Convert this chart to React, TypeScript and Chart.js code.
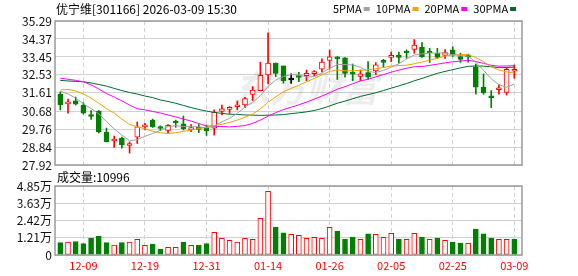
import React, { useEffect, useRef } from 'react';
import { Chart, registerables } from 'chart.js';

Chart.register(...registerables);

// ---------------- data ----------------
const dates = [
  '12-04', '12-05', '12-08', '12-09', '12-10', '12-11', '12-12', '12-15', '12-16', '12-17',
  '12-18', '12-19', '12-22', '12-23', '12-24', '12-25', '12-26', '12-29', '12-30', '12-31',
  '01-05', '01-06', '01-07', '01-08', '01-09', '01-12', '01-13', '01-14', '01-15', '01-16',
  '01-19', '01-20', '01-21', '01-22', '01-23', '01-26', '01-27', '01-28', '01-29', '01-30',
  '02-02', '02-03', '02-04', '02-05', '02-06', '02-09', '02-10', '02-11', '02-12', '02-13',
  '02-24', '02-25', '02-26', '02-27', '03-02', '03-03', '03-04', '03-05', '03-06', '03-09',
];

const opens = [
  31.55, 31.05, 31.2, 30.99, 30.5, 30.68, 29.61, 29.15, 29.3, 28.92,
  29.35, 29.87, 30.22, 29.84, 29.69, 30.12, 30.03, 29.71, 29.79, 29.83,
  29.81, 30.66, 30.77, 30.9, 30.99, 31.53, 31.73, 32.53, 33.13, 32.99,
  32.27, 32.45, 32.49, 32.6, 32.83, 33.27, 33.42, 33.41, 32.66, 32.45,
  32.65, 32.73, 33.22, 33.43, 33.48, 33.7, 33.84, 33.96, 33.69, 33.64,
  33.53, 33.81, 33.47, 33.48, 32.95, 31.9, 31.39, 31.77, 31.63, 32.72,
];
const highs = [
  31.66, 31.3, 31.4, 31.11, 30.71, 30.71, 29.81, 29.4, 29.35, 29.1,
  30.12, 30.05, 30.27, 29.92, 29.99, 30.22, 30.43, 29.99, 29.99, 29.97,
  30.74, 30.99, 30.91, 31.2, 31.38, 31.93, 33.18, 34.68, 33.14, 32.99,
  32.58, 32.66, 32.78, 32.75, 33.36, 33.81, 33.47, 33.42, 33.09, 32.78,
  33.21, 33.16, 33.33, 33.7, 33.7, 33.81, 34.34, 34.19, 33.89, 33.89,
  33.83, 33.97, 33.64, 33.6, 33.09, 32.58, 31.73, 32.04, 32.91, 33.04,
];
const lows = [
  30.74, 30.57, 30.99, 30.53, 30.25, 29.56, 29.1, 28.82, 28.78, 28.53,
  29.02, 29.71, 29.84, 29.68, 29.53, 29.85, 29.71, 29.62, 29.58, 29.43,
  29.45, 30.48, 30.56, 30.74, 30.86, 31.22, 31.71, 32.07, 32.44, 32.1,
  32.1, 32.19, 32.24, 32.48, 32.68, 32.82, 32.3, 32.42, 32.24, 32.24,
  32.3, 32.55, 32.94, 33.21, 33.13, 33.38, 33.64, 33.43, 33.17, 33.38,
  33.37, 33.47, 33.17, 33.18, 31.54, 31.54, 30.86, 31.54, 31.5, 32.36,
];
const closes = [
  30.99, 31.08, 31.03, 30.57, 30.4, 29.61, 29.11, 29.18, 28.95, 28.96,
  29.87, 29.97, 29.87, 29.79, 29.95, 30.07, 29.78, 29.83, 29.74, 29.66,
  30.61, 30.79, 30.81, 30.99, 31.32, 31.76, 32.51, 33.13, 32.61, 32.24,
  32.27, 32.4, 32.61, 32.68, 33.19, 33.45, 33.35, 32.61, 32.57, 32.58,
  32.41, 33.05, 33.17, 33.46, 33.43, 33.65, 34.06, 33.46, 33.65, 33.43,
  33.67, 33.55, 33.33, 33.45, 31.9, 31.62, 31.36, 31.8, 32.82, 32.75,
];
// volume, in 万 (10k) shares
const volumes = [
  0.87, 0.91, 0.94, 0.8, 1.19, 1.33, 0.87, 0.7, 0.87, 0.91,
  1.1, 0.68, 0.77, 0.42, 0.54, 0.54, 0.91, 0.68, 0.7, 0.8,
  1.59, 1.17, 1.03, 0.91, 1.17, 1.1, 2.58, 4.47, 1.97, 1.55,
  1.45, 1.38, 1.17, 1.24, 1.17, 1.94, 1.69, 1.12, 1.26, 1.1,
  1.48, 1.45, 1.24, 1.52, 1.12, 1.1, 1.52, 1.26, 1.1, 1.19,
  1.03, 0.91, 0.84, 0.82, 1.83, 1.48, 1.19, 1.1, 1.1, 1.1,
];
const ma5 = [
  31.7, 31.55, 31.35, 31.05, 30.81, 30.54, 30.14, 29.77, 29.45, 29.16,
  29.22, 29.39, 29.53, 29.69, 29.89, 29.93, 29.89, 29.88, 29.87, 29.82,
  29.92, 30.13, 30.31, 30.56, 30.89, 31.12, 31.47, 31.94, 32.27, 32.45,
  32.55, 32.53, 32.43, 32.44, 32.63, 32.87, 33.06, 33.06, 33.04, 32.92,
  32.71, 32.65, 32.76, 32.93, 33.1, 33.35, 33.55, 33.61, 33.65, 33.65,
  33.65, 33.55, 33.53, 33.49, 33.18, 32.77, 32.33, 32.03, 31.9, 32.07,
];
const ma10 = [
  31.76, 31.79, 31.71, 31.55, 31.35, 31.08, 30.81, 30.58, 30.27, 29.99,
  29.88, 29.77, 29.65, 29.57, 29.53, 29.57, 29.64, 29.71, 29.78, 29.85,
  29.93, 30.01, 30.1, 30.22, 30.36, 30.52, 30.8, 31.13, 31.41, 31.67,
  31.84, 32.0, 32.18, 32.35, 32.54, 32.71, 32.79, 32.74, 32.74, 32.77,
  32.79, 32.85, 32.91, 32.99, 33.01, 33.03, 33.1, 33.19, 33.29, 33.38,
  33.5, 33.55, 33.57, 33.57, 33.42, 33.21, 32.94, 32.78, 32.69, 32.63,
];
const ma20 = [
  32.36, 32.31, 32.25, 32.17, 32.02, 31.81, 31.58, 31.4, 31.2, 30.99,
  30.8, 30.74, 30.66, 30.58, 30.48, 30.38, 30.27, 30.17, 30.04, 29.92,
  29.9, 29.89, 29.87, 29.9, 29.94, 30.05, 30.22, 30.42, 30.6, 30.76,
  30.88, 31.0, 31.14, 31.29, 31.45, 31.62, 31.8, 31.93, 32.08, 32.22,
  32.31, 32.43, 32.55, 32.67, 32.78, 32.87, 32.95, 32.96, 33.02, 33.08,
  33.15, 33.2, 33.24, 33.28, 33.21, 33.12, 33.02, 32.98, 32.99, 33.0,
];
const ma30 = [
  32.25, 32.22, 32.2, 32.18, 32.12, 32.04, 31.96, 31.84, 31.73, 31.63,
  31.55, 31.45, 31.37, 31.25, 31.17, 31.08, 30.97, 30.86, 30.76, 30.68,
  30.61, 30.56, 30.52, 30.51, 30.48, 30.47, 30.46, 30.47, 30.48, 30.5,
  30.55, 30.59, 30.64, 30.71, 30.81, 30.94, 31.08, 31.19, 31.31, 31.43,
  31.52, 31.62, 31.73, 31.85, 31.97, 32.09, 32.23, 32.35, 32.48, 32.61,
  32.71, 32.8, 32.89, 32.97, 32.99, 32.98, 32.95, 32.9, 32.91, 32.93,
];
const priceTicks = [27.92, 28.84, 29.76, 30.68, 31.61, 32.53, 33.45, 34.37, 35.29];
const volumeTicks = [0, 1.21, 2.42, 3.63, 4.85];
const xTickLabels = ['12-09', '12-19', '12-31', '01-14', '01-26', '02-05', '02-25', '03-09'];
const maNames = ['5PMA', '10PMA', '20PMA', '30PMA'];
const stockTitle = '优宁维[301166] 2026-03-09 15:30';
const volumeTitle = '成交量:10996';
const watermark = '东方财富';

// ---------------- style ----------------
const FONT = '"Noto Sans CJK SC", "Noto Sans", sans-serif';
const RED = '#ff0000';
const GREEN = '#008000';
const BLACK = '#000000';
const GRID = '#d2d2d2';
const FRAME = '#9a9a9a';
const MA_COLORS = ['#a0a0a0', '#f5a300', '#ff00ff', '#006b2c'];
const PLOT_LEFT = 55;
const RIGHT_PAD = 56;
const X_MIN = -0.69;
const X_MAX = 60.0;
const LEGEND_START = 333;

Chart.defaults.font.family = FONT;

const tickIndices = xTickLabels.map((l) => dates.indexOf(l));

function candleColor(i: number) {
  if (closes[i] > opens[i]) return RED;
  if (closes[i] < opens[i]) return GREEN;
  return BLACK;
}
function volumeUp(i: number) {
  return i === 0 ? closes[0] >= opens[0] : closes[i] >= closes[i - 1];
}

function xAxis(showLabels: boolean, height: number) {
  return {
    type: 'linear',
    min: X_MIN,
    max: X_MAX,
    offset: false,
    bounds: 'data',
    afterBuildTicks: (s: any) => {
      s.ticks = tickIndices.map((v) => ({ value: v }));
    },
    afterFit: (s: any) => {
      s.height = height;
    },
    grid: { color: GRID, lineWidth: 1, offset: false, drawTicks: false },
    border: { display: false, dash: [4, 3] },
    ticks: {
      display: showLabels,
      autoSkip: false,
      maxRotation: 0,
      minRotation: 0,
      padding: 4,
      color: RED,
      font: { family: FONT, size: 11 },
      callback: (v: any) => dates[Math.round(Number(v))] ?? '',
    },
  };
}

function yAxis(ticks: number[], fmt: (v: number) => string) {
  return {
    type: 'linear',
    position: 'left',
    min: ticks[0],
    max: ticks[ticks.length - 1],
    beginAtZero: false,
    bounds: 'data',
    afterBuildTicks: (s: any) => {
      s.ticks = ticks.map((v) => ({ value: v }));
    },
    afterFit: (s: any) => {
      s.width = PLOT_LEFT;
    },
    grid: { color: GRID, lineWidth: 1, drawTicks: false },
    border: { display: false },
    ticks: {
      autoSkip: false,
      padding: 3,
      color: '#111111',
      font: { family: FONT, size: 12 },
      callback: (v: any) => fmt(Number(v)),
    },
  };
}

function strokeFrame(chart: any) {
  const { ctx, chartArea: a } = chart;
  ctx.save();
  ctx.strokeStyle = FRAME;
  ctx.lineWidth = 1.5;
  ctx.strokeRect(a.left, a.top, a.right - a.left, a.bottom - a.top);
  ctx.restore();
}

const pricePlugin = {
  id: 'priceDecor',
  beforeDatasetsDraw(chart: any) {
    const { ctx } = chart;
    ctx.save();
    ctx.font = `italic bold 36px ${FONT}`;
    ctx.fillStyle = 'rgba(0,0,0,0.07)';
    ctx.textBaseline = 'middle';
    ctx.textAlign = 'left';
    ctx.fillText(watermark, 234, 88);
    ctx.restore();
  },
  afterDraw(chart: any) {
    strokeFrame(chart);
    const { ctx } = chart;
    ctx.save();
    ctx.textBaseline = 'middle';
    ctx.textAlign = 'left';
    ctx.fillStyle = '#000';
    ctx.font = `12px ${FONT}`;
    ctx.fillText(stockTitle, 56, 9);
    ctx.font = `11px ${FONT}`;
    let x = LEGEND_START;
    maNames.forEach((n, k) => {
      ctx.fillStyle = '#000';
      ctx.fillText(n, x, 9);
      x += ctx.measureText(n).width + 2;
      ctx.fillStyle = MA_COLORS[k];
      ctx.fillRect(x, 7, 6, 4);
      x += 6 + 6;
    });
    ctx.restore();
  },
};

const volumePlugin = {
  id: 'volumeDecor',
  afterDraw(chart: any) {
    strokeFrame(chart);
    const { ctx } = chart;
    ctx.save();
    ctx.textBaseline = 'middle';
    ctx.textAlign = 'left';
    ctx.fillStyle = '#000';
    ctx.font = `12px ${FONT}`;
    ctx.fillText(volumeTitle, 57, 11);
    ctx.restore();
  },
};

function priceConfig(): any {
  const colors = dates.map((_, i) => candleColor(i));
  const maSets = [ma5, ma10, ma20, ma30].map((arr, k) => ({
    type: 'line',
    label: maNames[k],
    data: arr.map((v, i) => ({ x: i, y: v })),
    borderColor: MA_COLORS[k],
    borderWidth: 1,
    pointRadius: 0,
    tension: 0,
    fill: false,
    order: 0,
  }));
  return {
    type: 'bar',
    data: {
      datasets: [
        ...maSets,
        {
          type: 'bar',
          label: 'body',
          data: dates.map((_, i) => ({ x: i, y: [opens[i], closes[i]] })),
          backgroundColor: dates.map((_, i) => (closes[i] > opens[i] ? '#ffffff' : colors[i])),
          borderColor: colors,
          borderWidth: 1,
          borderSkipped: false,
          barThickness: 5,
          minBarLength: 2,
          grouped: false,
          order: 2,
        },
        {
          type: 'bar',
          label: 'wick',
          data: dates.map((_, i) => ({ x: i, y: [lows[i], highs[i]] })),
          backgroundColor: colors,
          borderWidth: 0,
          barThickness: 1,
          grouped: false,
          order: 3,
        },
      ],
    },
    options: {
      responsive: false,
      animation: false,
      devicePixelRatio: 1,
      events: [],
      layout: { padding: { top: 21, right: RIGHT_PAD, bottom: 11, left: 0 } },
      plugins: { legend: { display: false }, tooltip: { enabled: false } },
      scales: {
        x: xAxis(false, 0),
        y: yAxis(priceTicks, (v) => v.toFixed(2)),
      },
    },
    plugins: [pricePlugin],
  };
}

function volumeConfig(): any {
  const up = dates.map((_, i) => volumeUp(i));
  return {
    type: 'bar',
    data: {
      datasets: [
        {
          type: 'bar',
          label: '成交量',
          data: volumes.map((v, i) => ({ x: i, y: v })),
          backgroundColor: up.map((u) => (u ? '#ffffff' : GREEN)),
          borderColor: up.map((u) => (u ? RED : GREEN)),
          borderWidth: 1,
          borderSkipped: false,
          barThickness: 5,
          grouped: false,
        },
      ],
    },
    options: {
      responsive: false,
      animation: false,
      devicePixelRatio: 1,
      events: [],
      layout: { padding: { top: 20, right: RIGHT_PAD, bottom: 0, left: 0 } },
      plugins: { legend: { display: false }, tooltip: { enabled: false } },
      scales: {
        x: xAxis(true, 21),
        y: yAxis(volumeTicks, (v) => (v === 0 ? '0' : `${v.toFixed(2)}万`)),
      },
    },
    plugins: [volumePlugin],
  };
}

export default function App() {
  const priceRef = useRef<HTMLCanvasElement>(null);
  const volRef = useRef<HTMLCanvasElement>(null);

  useEffect(() => {
    const c1 = new Chart(priceRef.current as HTMLCanvasElement, priceConfig());
    const c2 = new Chart(volRef.current as HTMLCanvasElement, volumeConfig());
    return () => {
      c1.destroy();
      c2.destroy();
    };
  }, []);

  return (
    <div style={{ position: 'absolute', left: 0, top: 0, width: 578, height: 276, background: '#ffffff' }}>
      <canvas ref={priceRef} width={578} height={176} style={{ position: 'absolute', left: 0, top: 0 }} />
      <canvas ref={volRef} width={578} height={110} style={{ position: 'absolute', left: 0, top: 166 }} />
    </div>
  );
}
